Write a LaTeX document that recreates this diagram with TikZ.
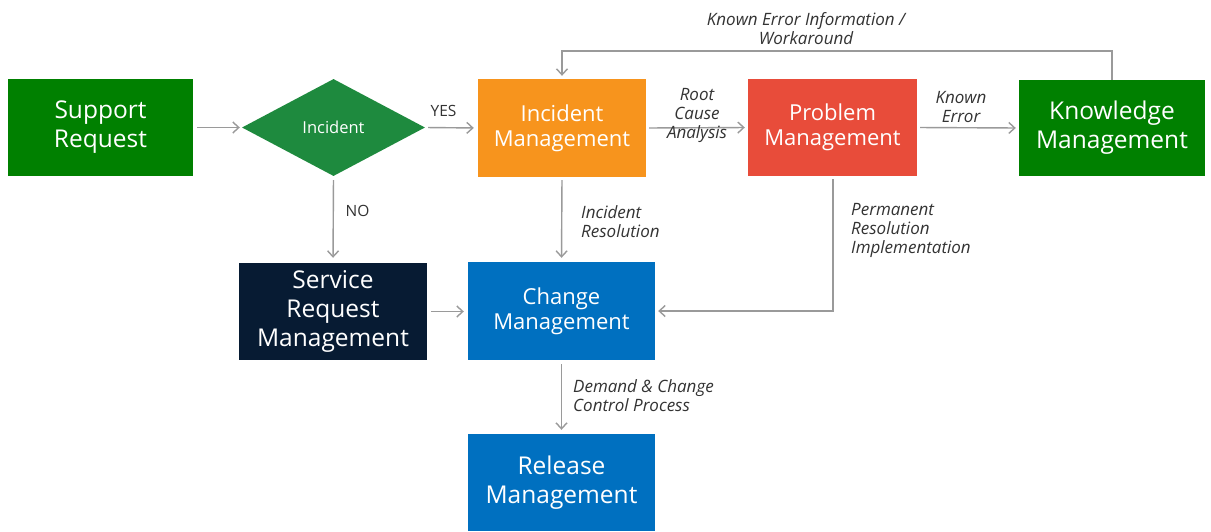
\documentclass[tikz,border=0pt]{standalone}
\usepackage{fontspec}
\setmainfont{Open Sans}
\usetikzlibrary{arrows.meta,shapes.geometric}
\definecolor{srgreen}{HTML}{008000}
\definecolor{diagreen}{HTML}{1E8A3E}
\definecolor{imorange}{HTML}{F7941D}
\definecolor{pmred}{HTML}{E84C3A}
\definecolor{srnavy}{HTML}{071B33}
\definecolor{cmblue}{HTML}{0070C0}
\definecolor{linkgray}{HTML}{9A9A9A}
\definecolor{labelgray}{HTML}{333333}
\tikzset{
  procbox/.style={rectangle, inner sep=0pt, text=white, align=center,
    font=\fontsize{22}{25}\selectfont},
  bigtext/.style={font=\fontsize{24.5}{29}\selectfont},
  flow/.style={draw=linkgray, line width=1.4pt,
    -{Straight Barb[length=6pt,width=11pt,line width=1.4pt]}},
  flowlabel/.style={text=labelgray, font=\fontsize{17}{19}\selectfont\itshape, inner sep=0pt},
  choice/.style={text=labelgray, font=\fontsize{15.5}{17}\selectfont, inner sep=0pt},
}
\begin{document}
\begin{tikzpicture}[x=1pt,y=-1pt]
\useasboundingbox[fill=white] (0,0) rectangle (1211,531);

% process boxes
\node[procbox, bigtext, fill=srgreen, minimum width=185pt, minimum height=97pt] (support) at (100.5,127.5) {Support\\Request};
\node[diamond, shape aspect=1.9, fill=diagreen, inner sep=0pt, minimum width=183pt, minimum height=97pt,
      text=white, font=\fontsize{16.5}{18}\selectfont] (incident) at (333.5,127.5) {Incident};
\node[procbox, fill=imorange, minimum width=168pt, minimum height=98pt] (im) at (562,128) {Incident\\Management};
\node[procbox, fill=pmred, minimum width=169pt, minimum height=97pt] (pm) at (832.5,127.5) {Problem\\Management};
\node[procbox, bigtext, fill=srgreen, minimum width=186pt, minimum height=96pt] (km) at (1112,128) {Knowledge\\Management};
\node[procbox, bigtext, fill=srnavy, minimum width=188pt, minimum height=97pt] (srm) at (333,311.5) {Service\\Request\\Management};
\node[procbox, fill=cmblue, minimum width=187pt, minimum height=98pt] (cm) at (561.5,311) {Change\\Management};
\node[procbox, bigtext, fill=cmblue, minimum width=187pt, minimum height=97pt] (rm) at (561.5,482.5) {Release\\Management};

% bend points of the routed connectors
\coordinate (kmtop) at (1112,51);
\coordinate (imtop) at (562,51);
\coordinate (pmcorner) at (833,311);

% connectors
\draw[flow, shorten <=4pt, shorten >=2pt] (support.east) -- (incident.west);
\draw[flow, shorten <=3pt, shorten >=4pt] (incident.east) -- (im.west);
\node[choice] (yes) at (443.5,111) {YES};
\draw[flow, shorten <=4pt, shorten >=5pt] (incident.south) -- (srm.north);
\node[choice] (no) at (357.5,211) {NO};
\draw[flow, shorten <=3pt, shorten >=3pt] (im.east) -- (pm.west);
\node[flowlabel, align=center] (rca) at (697,115) {Root\\Cause\\Analysis};
\draw[flow, shorten <=3pt, shorten >=3pt] (pm.east) -- (km.west);
\node[flowlabel, align=center] (ke) at (961,107) {Known\\Error};
\draw[flow, shorten >=3pt] (km.north) -- (kmtop) -- (imtop) -- (im.north);
\node[flowlabel, align=center] (kei) at (806,29) {Known Error Information /\\Workaround};
\draw[flow, shorten <=3pt, shorten >=4pt] (im.south) -- (cm.north);
\node[flowlabel, align=left, anchor=west] (ir) at (581,221.5) {Incident\\Resolution};
\draw[flow, shorten >=3pt] (pm.south -| pmcorner) ++(0,3) -- (pmcorner) -- (cm.east);
\node[flowlabel, align=left, anchor=west] (pri) at (851,230) {Permanent\\Resolution\\Implementation};
\draw[flow, shorten <=4pt, shorten >=4pt] (srm.east) -- (cm.west |- srm.east);
\draw[flow, shorten <=4pt, shorten >=4pt] (cm.south) -- (rm.north);
\node[flowlabel, align=left, anchor=west] (dcc) at (573,395.5) {Demand \& Change\\Control Process};
\end{tikzpicture}
\end{document}
